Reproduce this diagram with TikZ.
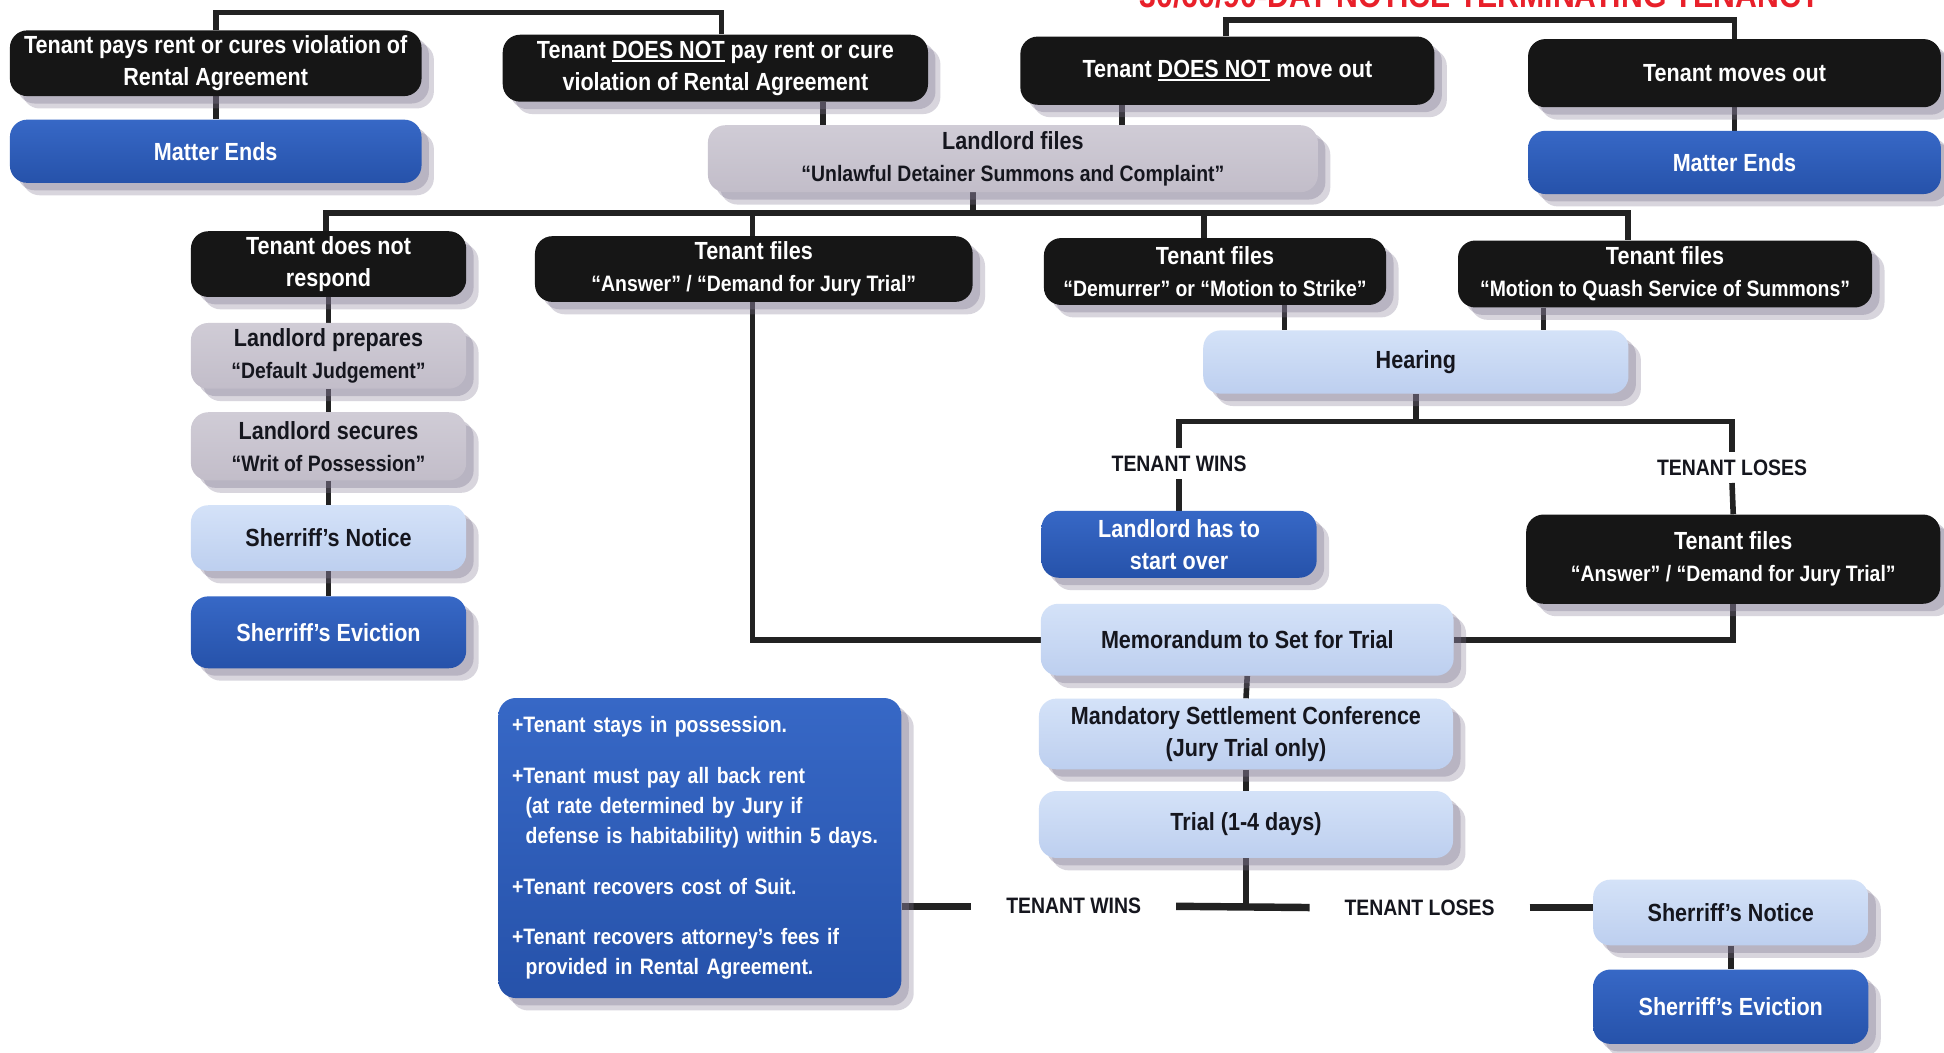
\documentclass[tikz,border=0pt]{standalone}
\usepackage{fontspec}
\newfontfamily\cf[FakeStretch=0.87]{Liberation Sans}
\usetikzlibrary{shadows}
\definecolor{bk}{HTML}{161616}
\definecolor{bl1}{HTML}{3768C6}
\definecolor{bl2}{HTML}{2652AA}
\definecolor{gr1}{HTML}{D0CCD6}
\definecolor{gr2}{HTML}{C2BDC9}
\definecolor{lb1}{HTML}{D4E2F8}
\definecolor{lb2}{HTML}{BDCFEF}
\definecolor{dk}{HTML}{15161E}
\definecolor{ln}{HTML}{222222}
\definecolor{shc}{HTML}{7F7690}
\definecolor{tred}{HTML}{E8202A}
\newcommand{\myul}[1]{\setbox0\hbox{#1}\rlap{\rule[-3pt]{\wd0}{1.6pt}}\box0\relax}
\newcommand{\fsub}{\fontsize{18}{26}\selectfont}
\pgfdeclarelayer{back}
\pgfdeclarelayer{bg}
\pgfsetlayers{back,bg,main}
\begin{document}
\begin{tikzpicture}[x=1pt,y=-1pt,
 conn/.style={line width=4.5pt, draw=ln},
 thickconn/.style={line width=6pt, draw=ln},
 box/.style={rounded corners=14pt, align=center, inner sep=0pt,
   font=\cf\bfseries\fontsize{20}{26}\selectfont,
   drop shadow={shadow xshift=6pt,shadow yshift=-6pt,fill=shc,opacity=0.35},
   drop shadow={shadow xshift=10pt,shadow yshift=-10pt,fill=shc,opacity=0.3}},
 blk/.style={box, fill=bk, text=white},
 blu/.style={box, top color=bl1, bottom color=bl2, text=white},
 gry/.style={box, top color=gr1, bottom color=gr2, text=dk},
 lbl/.style={box, top color=lb1, bottom color=lb2, text=dk},
 res/.style={font=\cf\bfseries\fontsize{18}{22}\selectfont, text=dk, inner xsep=28pt, inner ysep=6pt},
]
\useasboundingbox (0,0) rectangle (1568,849);
\begin{pgfonlayer}{back}
\fill[white] (0,0) rectangle (1568,849);
\end{pgfonlayer}

\node[font=\cf\bfseries\fontsize{28}{30}\selectfont, text=tred, anchor=base] (title) at (1194,6) {30/60/90-DAY NOTICE TERMINATING TENANCY};

% top row
\node[blk, minimum width=332pt, minimum height=53pt] (A1) at (174,51) {Tenant pays rent or cures violation of\\Rental Agreement};
\node[blk, minimum width=343pt, minimum height=54pt] (A2) at (577,55) {Tenant \myul{DOES NOT} pay rent or cure\\violation of Rental Agreement};
\node[blu, minimum width=332pt, minimum height=51pt] (A3) at (174,122) {Matter Ends};
\node[blk, minimum width=334pt, minimum height=55pt] (R1) at (990,57) {Tenant \myul{DOES NOT} move out};
\node[blk, minimum width=333pt, minimum height=55pt] (R2) at (1399,59) {Tenant moves out};
\node[blu, minimum width=333pt, minimum height=51pt] (R3) at (1399,131) {Matter Ends};
\node[gry, minimum width=492pt, minimum height=54pt] (L) at (817,128) {Landlord files\\{\fsub “Unlawful Detainer Summons and Complaint”}};

% tenant responses
\node[blk, minimum width=222pt, minimum height=53pt] (B1) at (265,213) {Tenant does not\\respond};
\node[blk, minimum width=353pt, minimum height=53pt] (B2) at (608,217) {Tenant files\\{\fsub “Answer” / “Demand for Jury Trial”}};
\node[blk, minimum width=276pt, minimum height=54pt] (B3) at (980,219) {Tenant files\\{\fsub “Demurrer” or “Motion to Strike”}};
\node[blk, minimum width=334pt, minimum height=54pt] (B4) at (1343,221) {Tenant files\\{\fsub “Motion to Quash Service of Summons”}};

% default column
\node[gry, minimum width=222pt, minimum height=53pt] (C1) at (265,287) {Landlord prepares\\{\fsub “Default Judgement”}};
\node[gry, minimum width=222pt, minimum height=55pt] (C2) at (265,360) {Landlord secures\\{\fsub “Writ of Possession”}};
\node[lbl, minimum width=222pt, minimum height=53pt] (C3) at (265,434) {Sherriff’s Notice};
\node[blu, minimum width=222pt, minimum height=58pt] (C4) at (265,510) {Sherriff’s Eviction};

% hearing branch
\node[lbl, minimum width=343pt, minimum height=51pt] (H) at (1142,292) {Hearing};
\node[res] (TW1) at (951,374) {TENANT WINS};
\node[res] (TL1) at (1397,377) {TENANT LOSES};
\node[blu, minimum width=222pt, minimum height=54pt] (LS) at (951,439) {Landlord has to\\start over};
\node[blk, minimum width=334pt, minimum height=72pt] (TF) at (1398,451) {Tenant files\\{\fsub “Answer” / “Demand for Jury Trial”}};

% trial column
\node[lbl, minimum width=333pt, minimum height=58pt] (M) at (1006,516) {Memorandum to Set for Trial};
\node[lbl, minimum width=334pt, minimum height=57pt] (MSC) at (1005,592) {Mandatory Settlement Conference\\(Jury Trial only)};
\node[lbl, minimum width=334pt, minimum height=54pt] (T) at (1005,665) {Trial (1-4 days)};
\node[res] (TW2) at (866,731) {TENANT WINS};
\node[res] (TL2) at (1145,732) {TENANT LOSES};
\node[lbl, minimum width=222pt, minimum height=53pt] (SN) at (1396,736) {Sherriff’s Notice};
\node[blu, minimum width=222pt, minimum height=60pt] (SE) at (1396,812) {Sherriff’s Eviction};

\node[blu, minimum width=325pt, minimum height=242pt, text width=303pt, inner xsep=11pt, align=left,
  font=\cf\bfseries\fontsize{18}{24.5}\selectfont] (BB) at (564.5,684) {%
+Tenant stays in possession.\\[16pt]
+Tenant must pay all back rent\\
\hspace*{11pt}(at rate determined by Jury if\\
\hspace*{11pt}defense is habitability) within 5 days.\\[16pt]
+Tenant recovers cost of Suit.\\[16pt]
+Tenant recovers attorney’s fees if\\
\hspace*{11pt}provided in Rental Agreement.};

\coordinate (topL) at (0,10);
\coordinate (topR) at (0,16);
\coordinate (bus) at (0,172);
\coordinate (brk) at (0,340);

\begin{pgfonlayer}{bg}
\draw[conn] (A1.north) -- (A1.north |- topL) -- ([xshift=5pt]A2.north |- topL) -- ([xshift=5pt]A2.north);
\draw[conn] (A1.south) -- (A3.north);
\draw[conn] ([xshift=87pt]A2.south) -- ([xshift=87pt]A2.south |- L.north);
\draw[conn] ([xshift=-1pt]R1.north) -- ([xshift=-1pt]R1.north |- topR) -- (R2.north |- topR) -- (R2.north);
\draw[conn] (R2.south) -- (R3.north);
\draw[conn] ([xshift=-85pt]R1.south) -- ([xshift=-85pt]R1.south |- L.north);
\draw[conn] ([xshift=-32pt]L.south) -- ([xshift=-32pt]L.south |- bus);
\draw[conn] ([xshift=-2pt]B1.north) -- ([xshift=-2pt]B1.north |- bus) -- ([xshift=-30pt]B4.north |- bus) -- ([xshift=-30pt]B4.north);
\draw[conn] ([xshift=-1pt]B2.north) -- ([xshift=-1pt]B2.north |- bus);
\draw[conn] ([xshift=-9pt]B3.north) -- ([xshift=-9pt]B3.north |- bus);
\draw[conn] (B1.south) -- (C1.north);
\draw[conn] (C1.south) -- (C2.north);
\draw[conn] (C2.south) -- (C3.north);
\draw[conn] (C3.south) -- (C4.north);
\draw[conn] ([xshift=-1pt]B2.south) |- (M.west);
\draw[conn] ([xshift=56pt]B3.south) -- ([xshift=56pt]B3.south |- H.north);
\draw[conn] ([xshift=-98pt]B4.south) -- ([xshift=-98pt]B4.south |- H.north);
\draw[conn] (H.south) -- (H.south |- brk);
\draw[conn] (TW1.north) |- (TL1.north |- brk) -- (TL1.north);
\draw[conn] (TW1.south) -- (LS.north);
\draw[conn] (TL1.south) -- (TF.north);
\draw[conn] (TF.south) |- (M.east);
\draw[conn] (M.south) -- (MSC.north);
\draw[conn] (MSC.south) -- (T.north);
\draw[conn] (T.south) -- (T.south |- TW2.east);
\draw[thickconn] (TW2.east) -- (TL2.west);
\draw[thickconn] (BB.east |- TW2.west) -- (TW2.west);
\draw[thickconn] (TL2.east) -- (SN.west |- TL2.east);
\draw[conn] (SN.south) -- (SE.north);
\end{pgfonlayer}
\end{tikzpicture}
\end{document}
